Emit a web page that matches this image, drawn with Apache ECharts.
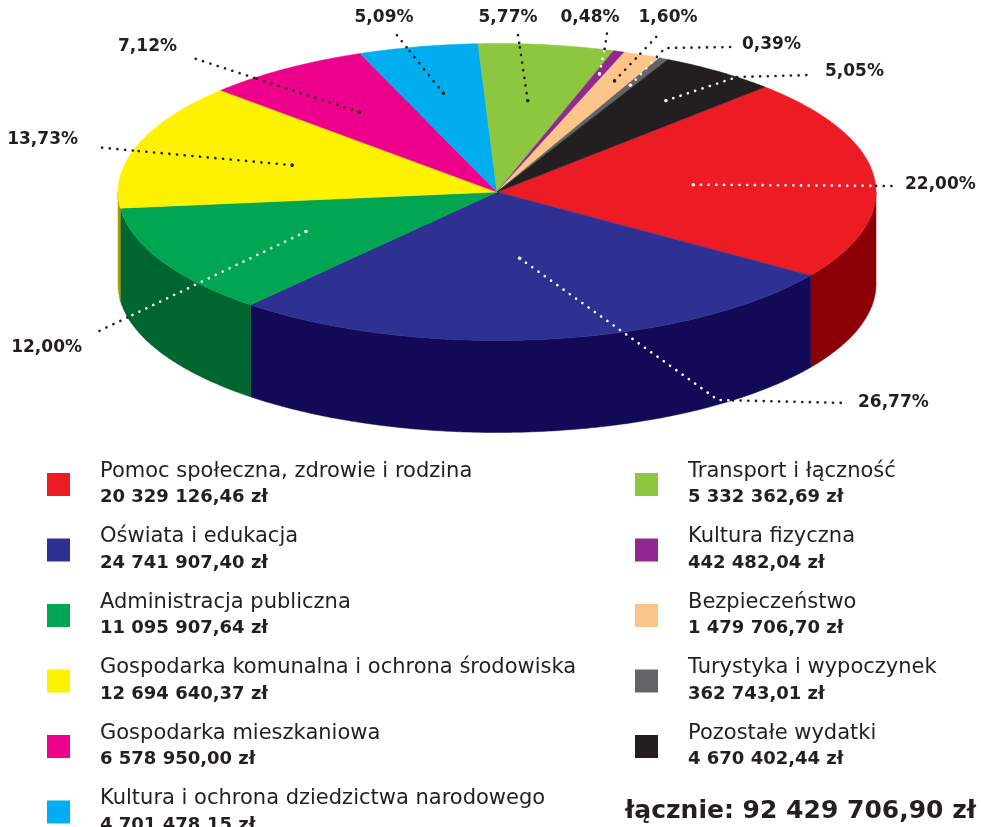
<!DOCTYPE html>
<html>
<head>
<meta charset="utf-8">
<script src="https://cdn.jsdelivr.net/npm/echarts@6/dist/echarts.min.js"></script>
<style>
html,body{margin:0;padding:0;background:#fff}
#chart{width:981px;height:827px}
</style>
</head>
<body>
<div id="chart"></div>
<script>
// dane
var categories = [
    'Pomoc społeczna, zdrowie i rodzina',
    'Oświata i edukacja',
    'Administracja publiczna',
    'Gospodarka komunalna i ochrona środowiska',
    'Gospodarka mieszkaniowa',
    'Kultura i ochrona dziedzictwa narodowego',
    'Transport i łączność',
    'Kultura fizyczna',
    'Bezpieczeństwo',
    'Turystyka i wypoczynek',
    'Pozostałe wydatki'
];
var amounts = [20329126.46, 24741907.40, 11095907.64, 12694640.37, 6578950.00,
    4701478.15, 5332362.69, 442482.04, 1479706.70, 362743.01, 4670402.44];
var shareLabels = ['22,00%', '26,77%', '12,00%', '13,73%', '7,12%', '5,09%',
    '5,77%', '0,48%', '1,60%', '0,39%', '5,05%'];

// wygląd
var topColors = ['#ED1C24', '#2E3192', '#00A651', '#FFF200', '#EC008C', '#00AEEF',
    '#8DC63F', '#92278F', '#FBC589', '#636466', '#231F20'];
var sideColors = ['#8B0004', '#130A57', '#00662F', '#A89D00', '#9E005D', '#00759F',
    '#5E842A', '#621A60', '#A8845C', '#424344', '#171415'];
var leaderInk = ['#fff', '#fff', '#fff', '#231F20', '#231F20', '#231F20',
    '#231F20', '#fff', '#231F20', '#fff', '#fff'];
// promień punktu startowego linii (ułamek promienia)
var anchorR = [0.52, 0.45, 0.57, 0.57, 0.65, 0.68, 0.62, 0.84, 0.81, 0.8, 0.76];
// przebieg linii i położenie etykiety względem środka koła (px)
var labelPaths = [
    [[396, -6]],
    [[221, 208], [348, 211]],
    [[-402, 141]],
    [[-402, -45]],
    [[-307, -135]],
    [[-101, -158]],
    [[21, -157]],
    [[108, -145], [110, -159]],
    [[163, -159]],
    [[168, -144], [238, -145]],
    [[240, -115], [315, -117]]
];
var labelSpots = [
    [408, -7, 'left'], [361, 211, 'left'], [-415, 156, 'right'], [-419, -52, 'right'],
    [-320, -145, 'right'], [-113, -174, 'center'], [11, -174, 'center'], [93, -174, 'center'],
    [171, -174, 'center'], [245, -147, 'left'], [328, -120, 'left']
];

var FONT = '"DejaVu Sans", sans-serif';
var CX = 497, CY = 192, RX = 379, RY = 148.5, DEPTH = 92, START = 45;

var total = amounts.reduce(function (a, b) { return a + b; }, 0);
var cum = [];
amounts.reduce(function (acc, v, i) { cum[i] = acc; return acc + v; }, 0);

function fmt(n) {
    var p = n.toFixed(2).split('.');
    return p[0].replace(/\B(?=(\d{3})+(?!\d))/g, ' ') + ',' + p[1];
}

function pt(deg, r, dz) {
    var a = deg * Math.PI / 180;
    return [CX + RX * r * Math.cos(a), CY - RY * r * Math.sin(a) + (dz || 0)];
}

function arc(from, to, r, dz) {
    var pts = [];
    var n = Math.max(2, Math.ceil(Math.abs(to - from) / 0.5));
    for (var k = 0; k <= n; k++) pts.push(pt(from + (to - from) * k / n, r, dz));
    return pts;
}

function inside(x, y) {
    var u = (x - CX) / RX;
    if (Math.abs(u) > 1) return false;
    var h = Math.sqrt(1 - u * u) * RY;
    return y >= CY - h && y <= CY + DEPTH + h;
}

// dzieli linię w miejscu, gdzie wychodzi poza bryłę
function splitLeader(pts) {
    var inner = [pts[0]];
    for (var s = 1; s < pts.length; s++) {
        var a = pts[s - 1], b = pts[s];
        var len = Math.hypot(b[0] - a[0], b[1] - a[1]);
        var steps = Math.ceil(len);
        for (var k = 1; k <= steps; k++) {
            var t = k / steps;
            var x = a[0] + (b[0] - a[0]) * t, y = a[1] + (b[1] - a[1]) * t;
            if (!inside(x, y)) {
                inner.push([x, y]);
                return { inner: inner, outer: [[x, y]].concat(pts.slice(s)) };
            }
        }
        inner.push(b);
    }
    return { inner: inner, outer: [] };
}

function dotted(points, color) {
    return {
        type: 'polyline', z2: 50,
        shape: { points: points },
        style: { stroke: color, fill: null, lineWidth: 2.6, lineCap: 'round', lineDash: [0.1, 7.6] }
    };
}

function renderSlice(params, api) {
    var i = params.seriesIndex;
    var a0 = START - 360 * cum[i] / total;
    var a1 = START - 360 * (cum[i] + api.value(0)) / total;
    var children = [];

    // ściana boczna (tylko przednia część)
    var lo = Math.max(a1, -180), hi = Math.min(a0, 0);
    if (lo < hi) {
        var side = arc(hi, lo, 1, 0).concat(arc(lo, hi, 1, DEPTH));
        children.push({
            type: 'polygon', shape: { points: side },
            style: { fill: sideColors[i], stroke: sideColors[i], lineWidth: 0.5 }
        });
    }
    // wierzch
    var top = [[CX, CY]].concat(arc(a0, a1, 1, 0));
    children.push({
        type: 'polygon', shape: { points: top },
        style: { fill: topColors[i], stroke: topColors[i], lineWidth: 0.5 }
    });

    // etykieta
    var mid = (a0 + a1) / 2;
    var pts = [pt(mid, anchorR[i], 0)].concat(labelPaths[i].map(function (d) {
        return [CX + d[0], CY + d[1]];
    }));
    var parts = splitLeader(pts);
    children.push(dotted(parts.inner, leaderInk[i]));
    if (parts.outer.length > 1) children.push(dotted(parts.outer, '#231F20'));
    children.push({
        type: 'circle', z2: 51,
        shape: { cx: pts[0][0], cy: pts[0][1], r: 1.8 },
        style: { fill: leaderInk[i] }
    });
    var sp = labelSpots[i];
    children.push({
        type: 'text', z2: 60, x: CX + sp[0], y: CY + sp[1],
        style: {
            text: shareLabels[i], fill: '#231F20',
            font: 'bold 17px ' + FONT,
            align: sp[2], verticalAlign: 'middle'
        }
    });
    return { type: 'group', children: children };
}

var legendBase = {
    orient: 'vertical',
    top: 456,
    height: 420,
    itemWidth: 23,
    itemHeight: 23,
    itemGap: 20,
    icon: 'rect',
    selectedMode: false,
    formatter: function (name) {
        var i = categories.indexOf(name);
        return '{n|' + name + '}\n{v|' + fmt(amounts[i]) + ' zł}';
    },
    textStyle: {
        rich: {
            n: { fontFamily: FONT, fontSize: 21, color: '#231F20', lineHeight: 26, padding: [0, 0, 0, 25] },
            v: { fontFamily: FONT, fontSize: 18, fontWeight: 'bold', color: '#231F20', lineHeight: 26, padding: [0, 0, 0, 25] }
        }
    }
};

var chart = echarts.init(document.getElementById('chart'));
chart.setOption({
    animation: false,
    color: topColors,
    title: {
        text: 'łącznie: ' + fmt(total) + ' zł',
        right: 0,
        top: 794,
        textStyle: { fontFamily: FONT, fontSize: 25, fontWeight: 'bold', color: '#231F20' }
    },
    legend: [
        Object.assign({}, legendBase, { left: 42, data: categories.slice(0, 6) }),
        Object.assign({}, legendBase, { left: 630, data: categories.slice(6) })
    ],
    series: categories.map(function (name, i) {
        return {
            type: 'custom',
            name: name,
            coordinateSystem: 'none',
            silent: true,
            itemStyle: { color: topColors[i] },
            data: [[amounts[i]]],
            renderItem: renderSlice
        };
    })
});
</script>
</body>
</html>
